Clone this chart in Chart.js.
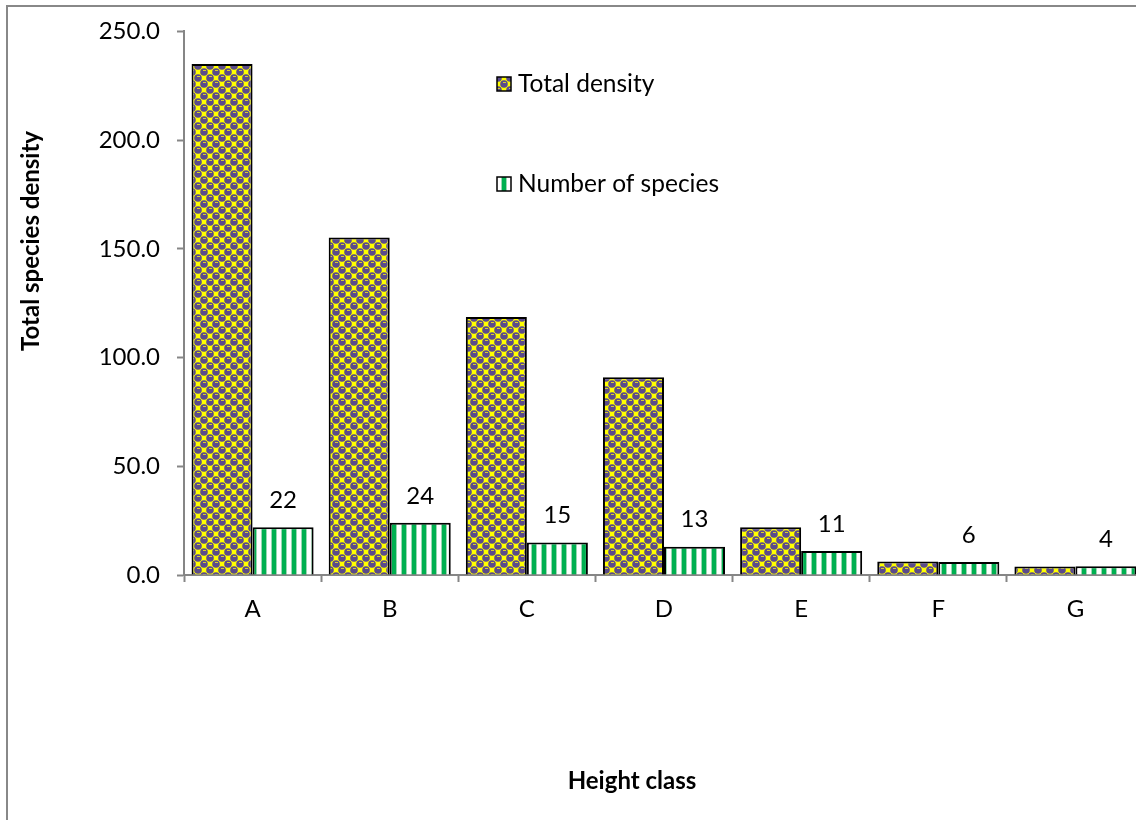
<!DOCTYPE html>
<html>
<head>
<meta charset="utf-8">
<script src="https://cdn.jsdelivr.net/npm/chart.js@4"></script>
<style>
html,body{margin:0;padding:0;background:#fff;overflow:hidden;}
#wrap{position:relative;width:1136px;height:820px;overflow:hidden;}
#frame{position:absolute;left:6px;top:5px;width:1300px;height:1000px;border-top:2px solid #888;border-left:2px solid #888;}
#holder{position:absolute;left:0;top:0;width:1150px;height:820px;}
</style>
</head>
<body>
<div id="wrap">
  <div id="frame"></div>
  <div id="holder"><canvas id="chart" width="1150" height="820"></canvas></div>
</div>
<script>
// chart data
const categories = ['A', 'B', 'C', 'D', 'E', 'F', 'G'];
const totalDensity = [235.0, 155.2, 118.6, 90.9, 22.0, 6.2, 3.9];
const numberOfSpecies = [22, 24, 15, 13, 11, 6, 4];
const yTicks = [0, 50, 100, 150, 200, 250];

const FONT = 'Lato, "Open Sans", sans-serif';
const AXIS_GREY = '#868686';

// purple circles on yellow, like the office "sphere" fill
function densityPattern(){
  const t = document.createElement('canvas');
  t.width = 12; t.height = 12;
  const g = t.getContext('2d');
  g.fillStyle = '#ffff00';
  g.fillRect(0, 0, 12, 12);
  g.fillStyle = '#5b4b8b';
  [[0,0],[12,0],[0,12],[12,12],[6,6]].forEach(([x,y]) => {
    g.beginPath();
    g.arc(x, y, 3.8, 0, Math.PI * 2);
    g.fill();
  });
  g.fillStyle = '#d6cf2c';
  g.fillRect(5, 4, 3, 1);
  g.fillRect(0, 10, 2, 1);
  g.fillRect(11, 10, 1, 1);
  return g.createPattern(t, 'repeat');
}

// green / white vertical stripes
function stripePattern(){
  const t = document.createElement('canvas');
  t.width = 10; t.height = 4;
  const g = t.getContext('2d');
  g.fillStyle = '#ffffff';
  g.fillRect(0, 0, 10, 4);
  g.fillStyle = '#00b050';
  g.fillRect(2, 0, 4, 4);
  g.fillStyle = '#9ad8b2';
  g.fillRect(1, 0, 1, 4);
  g.fillRect(6, 0, 1, 4);
  return g.createPattern(t, 'repeat');
}

const pDensity = densityPattern();
const pStripes = stripePattern();

const extras = {
  id: 'extras',
  afterDatasetsDraw(chart){
    const ctx = chart.ctx;
    ctx.save();
    // value labels over species bars
    ctx.font = '24px ' + FONT;
    ctx.fillStyle = '#000';
    ctx.textAlign = 'center';
    ctx.textBaseline = 'bottom';
    chart.getDatasetMeta(1).data.forEach((bar, i) => {
      ctx.fillText(String(numberOfSpecies[i]), bar.x, bar.y - 15);
    });

    // legend inside plot
    const items = [
      {text: 'Total density', fill: pDensity, y: 84},
      {text: 'Number of species', fill: pStripes, y: 184}
    ];
    ctx.font = '24.5px ' + FONT;
    ctx.textAlign = 'left';
    ctx.textBaseline = 'middle';
    items.forEach(it => {
      ctx.fillStyle = it.fill;
      ctx.fillRect(497, it.y - 7, 14, 14);
      ctx.strokeStyle = '#000';
      ctx.lineWidth = 1.5;
      ctx.strokeRect(497, it.y - 7, 14, 14);
      ctx.fillStyle = '#000';
      ctx.fillText(it.text, 518, it.y);
    });

    // axis titles
    ctx.font = 'bold 24px ' + FONT;
    ctx.textAlign = 'center';
    ctx.fillText('Height class', 632, 781);
    ctx.translate(31, 241);
    ctx.rotate(-Math.PI / 2);
    ctx.fillText('Total species density', 0, 0);
    ctx.restore();
  }
};

new Chart(document.getElementById('chart'), {
  type: 'bar',
  data: {
    labels: categories,
    datasets: [
      {
        label: 'Total density',
        data: totalDensity,
        backgroundColor: pDensity,
        borderColor: '#000',
        borderWidth: 2,
        borderSkipped: 'bottom',
        categoryPercentage: 0.89,
        barPercentage: 1
      },
      {
        label: 'Number of species',
        data: numberOfSpecies,
        backgroundColor: pStripes,
        borderColor: '#000',
        borderWidth: 2,
        borderSkipped: 'bottom',
        categoryPercentage: 0.89,
        barPercentage: 1
      }
    ]
  },
  options: {
    responsive: false,
    animation: false,
    devicePixelRatio: 1,
    layout: {padding: {top: 29, right: 6, left: 0, bottom: 0}},
    plugins: {
      legend: {display: false},
      tooltip: {enabled: false}
    },
    scales: {
      x: {
        afterFit(s){ s.height = 245; },
        grid: {offset: true, drawOnChartArea: false, tickLength: 7, tickColor: AXIS_GREY, tickWidth: 2},
        border: {color: AXIS_GREY, width: 2},
        ticks: {color: '#000', font: {family: FONT, size: 24}, padding: 13}
      },
      y: {
        min: 0,
        max: 250,
        afterFit(s){ s.width = 184; },
        afterBuildTicks(s){ s.ticks = yTicks.map(v => ({value: v})); },
        grid: {drawOnChartArea: false, tickLength: 7, tickColor: AXIS_GREY, tickWidth: 2},
        border: {color: AXIS_GREY, width: 2},
        ticks: {
          color: '#000',
          font: {family: FONT, size: 24},
          padding: 17,
          callback: v => Number(v).toFixed(1)
        }
      }
    }
  },
  plugins: [extras]
});
</script>
</body>
</html>
